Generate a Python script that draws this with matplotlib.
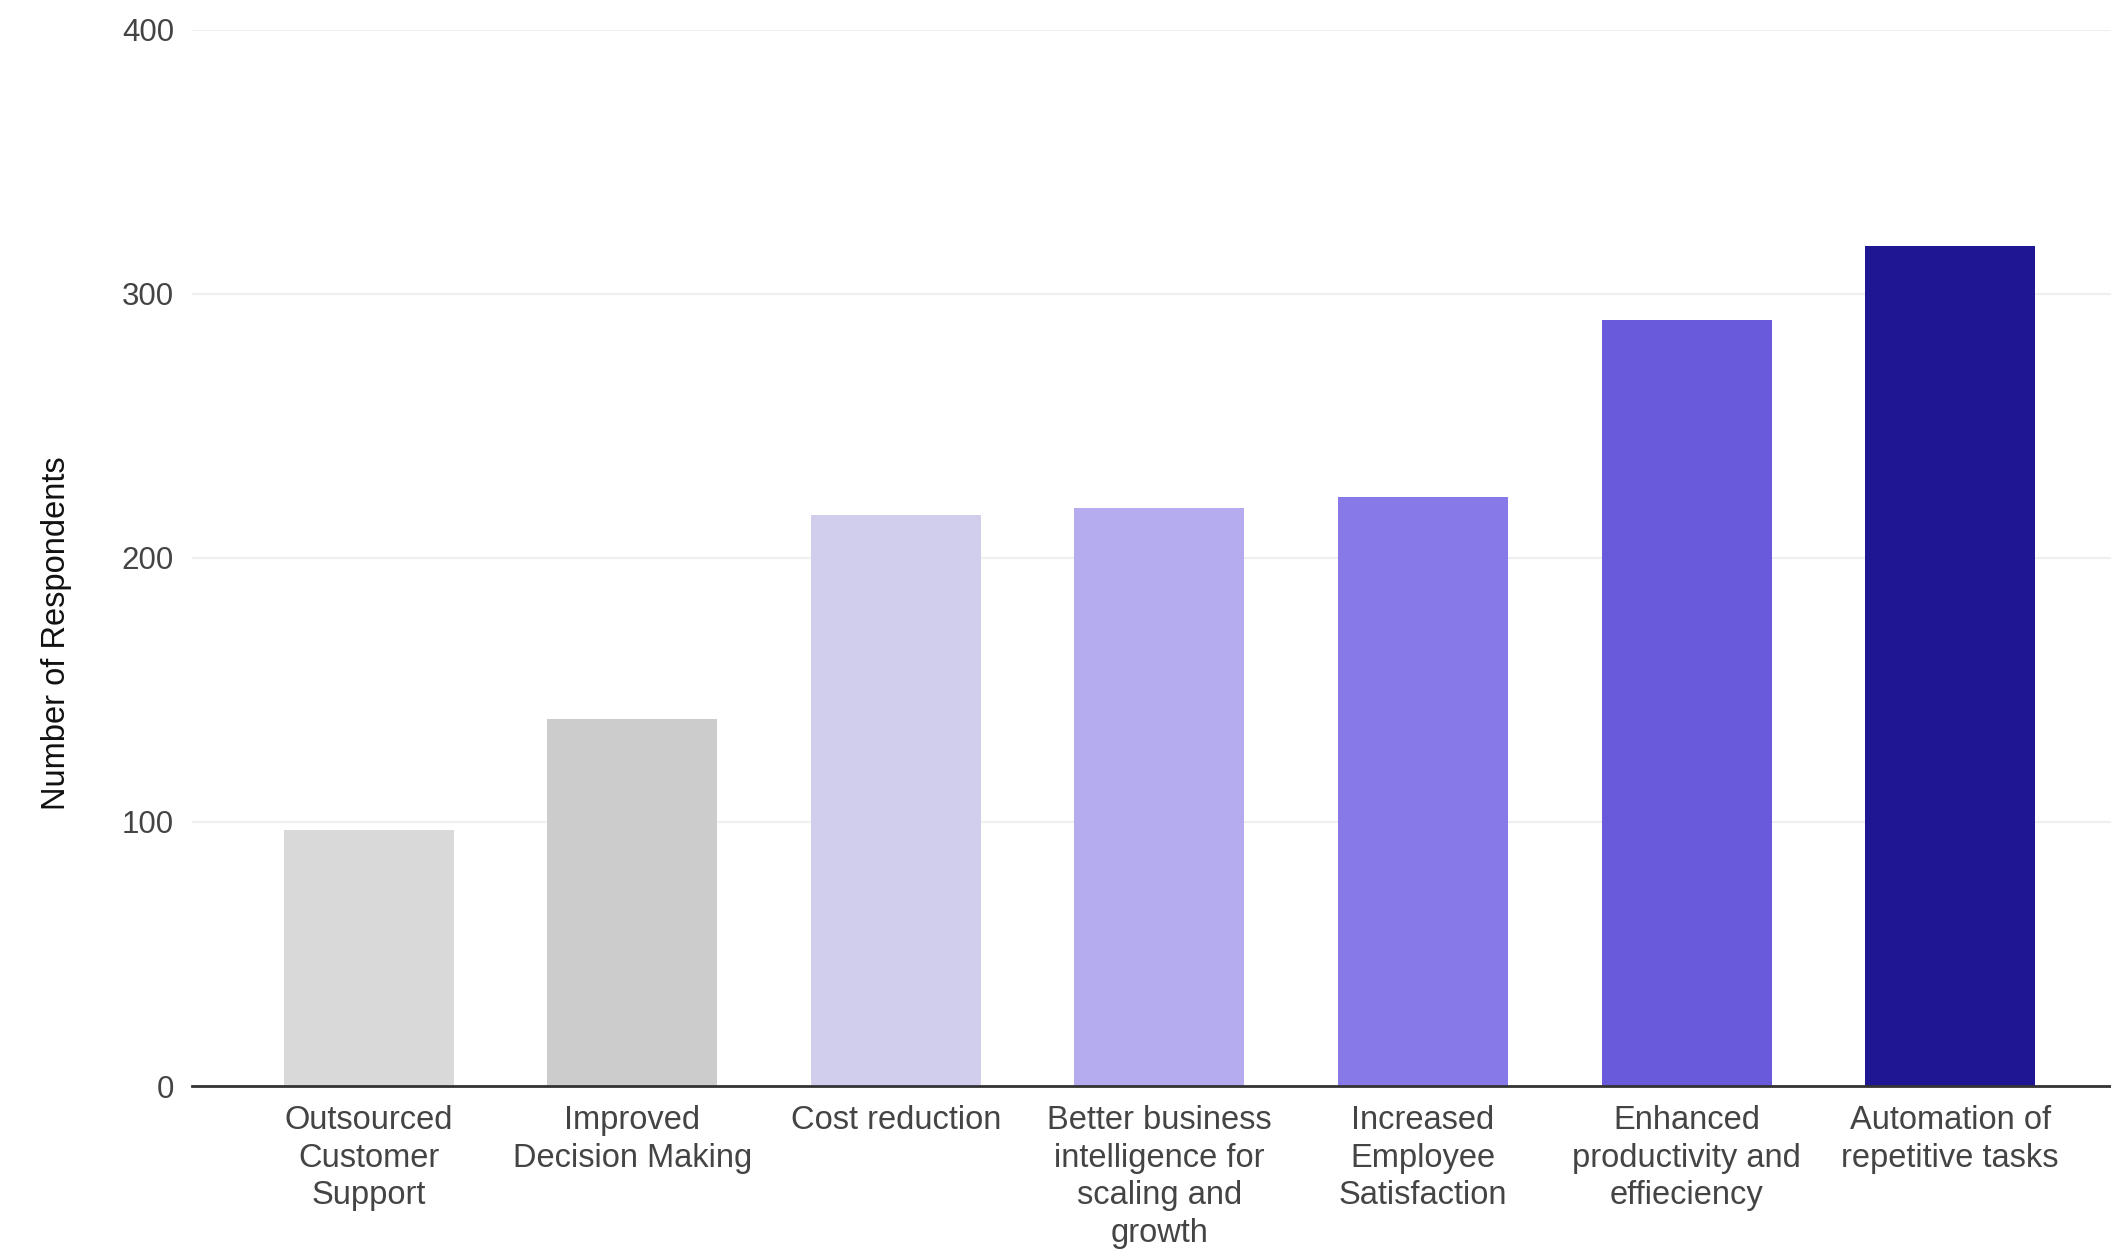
import matplotlib
matplotlib.use('Agg')
from matplotlib import pyplot as plt

# data
labels = ['Outsourced\nCustomer\nSupport', 'Improved\nDecision Making', 'Cost reduction',
          'Better business\nintelligence for\nscaling and\ngrowth', 'Increased\nEmployee\nSatisfaction',
          'Enhanced\nproductivity and\neffieciency', 'Automation of\nrepetitive tasks']
respondents = [97, 139, 216, 219, 223, 290, 318]
colors = ['#d9d9d9', '#cccccc', '#d1ceed', '#b4acee', '#8879e9', '#6959db', '#1f1693']
yticks = [0, 100, 200, 300, 400]

plt.rcParams['font.family'] = ['Liberation Sans', 'DejaVu Sans']

W, H = 2111, 1254
fig = plt.figure(figsize=(W / 100, H / 100), dpi=100)
ax = fig.add_axes([192 / W, 1 - 1086 / H, 1 - 192 / W, (1086 - 29.5) / H])

x = range(len(labels))
ax.bar(x, respondents, width=0.645, color=colors, zorder=2)

ax.set_ylim(0, 400)
ax.set_xlim(-0.67, 6.61)
ax.set_yticks(yticks)
ax.set_xticks(list(x))
ax.set_xticklabels(labels, fontsize=23.5, color='#444444', linespacing=1.27, va='top')
ax.tick_params(axis='x', length=0, pad=14)
ax.tick_params(axis='y', length=0, pad=13, labelsize=22.5, labelcolor='#444444')

ax.grid(axis='y', color='#efefef', linewidth=1.5, zorder=0)
for s in ['top', 'right', 'left']:
    ax.spines[s].set_visible(False)
ax.spines['bottom'].set_color('#333333')
ax.spines['bottom'].set_linewidth(2)
ax.spines['bottom'].set_zorder(3)

fig.text(57 / W, 1 - 633 / H, 'Number of Respondents', rotation=90, fontsize=23.5,
         color='#111111', ha='center', va='center')

plt.savefig('out.png', dpi=100)
